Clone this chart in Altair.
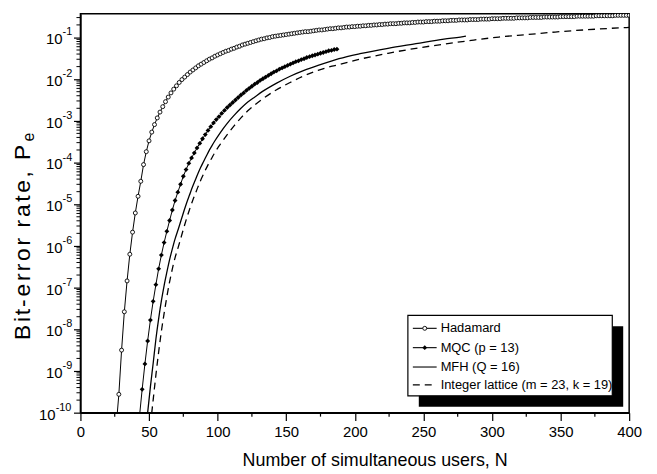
import altair as alt
import pandas as pd

# ---------------- data (log10 of bit-error rate) ----------------
hadamard_N = list(range(26, 401, 2))
hadamard_log10 = [
    -10.35, -9.56, -8.50, -7.58, -6.84, -6.20, -5.67, -5.21, -4.81, -4.45,
    -4.05, -3.74, -3.48, -3.27, -3.09, -2.93, -2.79, -2.66, -2.54, -2.43,
    -2.33, -2.24, -2.16, -2.08, -2.01, -1.95, -1.89, -1.83, -1.78, -1.73,
    -1.68, -1.64, -1.60, -1.56, -1.52, -1.49, -1.45, -1.42, -1.39, -1.36,
    -1.33, -1.31, -1.28, -1.26, -1.23, -1.21, -1.18, -1.16, -1.14, -1.12,
    -1.10, -1.08, -1.06, -1.04, -1.03, -1.01, -1.00, -0.98, -0.97, -0.96,
    -0.95, -0.94, -0.93, -0.92, -0.91, -0.90, -0.89, -0.88, -0.87, -0.86,
    -0.86, -0.85, -0.84, -0.83, -0.82, -0.82, -0.81, -0.80, -0.79, -0.79,
    -0.78, -0.77, -0.77, -0.76, -0.75, -0.75, -0.74, -0.74, -0.73, -0.73,
    -0.72, -0.72, -0.71, -0.71, -0.70, -0.70, -0.69, -0.69, -0.68, -0.68,
    -0.67, -0.67, -0.67, -0.66, -0.66, -0.65, -0.65, -0.65, -0.64, -0.64,
    -0.63, -0.63, -0.63, -0.62, -0.62, -0.62, -0.61, -0.61, -0.61, -0.60,
    -0.60, -0.60, -0.59, -0.59, -0.59, -0.58, -0.58, -0.58, -0.58, -0.57,
    -0.57, -0.57, -0.57, -0.56, -0.56, -0.56, -0.56, -0.55, -0.55, -0.55,
    -0.55, -0.54, -0.54, -0.54, -0.54, -0.54, -0.53, -0.53, -0.53, -0.53,
    -0.53, -0.52, -0.52, -0.52, -0.52, -0.52, -0.51, -0.51, -0.51, -0.51,
    -0.51, -0.51, -0.50, -0.50, -0.50, -0.50, -0.50, -0.50, -0.49, -0.49,
    -0.49, -0.49, -0.49, -0.49, -0.49, -0.48, -0.48, -0.48, -0.48, -0.48,
    -0.48, -0.48, -0.47, -0.47, -0.47, -0.47, -0.47, -0.47,
]

mqc_N = list(range(43, 188, 2))
mqc_log10 = [
    -10.10, -9.44, -8.83, -8.28, -7.78, -7.33, -6.93, -6.55, -6.22, -5.92,
    -5.65, -5.39, -5.14, -4.91, -4.71, -4.52, -4.33, -4.17, -4.02, -3.89,
    -3.77, -3.65, -3.54, -3.43, -3.33, -3.23, -3.14, -3.05, -2.97, -2.90,
    -2.82, -2.75, -2.68, -2.62, -2.56, -2.50, -2.44, -2.38, -2.33, -2.27,
    -2.22, -2.17, -2.12, -2.08, -2.03, -1.99, -1.95, -1.91, -1.87, -1.83,
    -1.80, -1.76, -1.73, -1.70, -1.67, -1.64, -1.61, -1.58, -1.56, -1.53,
    -1.51, -1.48, -1.46, -1.44, -1.42, -1.40, -1.38, -1.36, -1.34, -1.32,
    -1.31, -1.29, -1.28,
]

mfh_N = [48, 49, 51, 53, 55, 57, 59, 61, 63, 65, 67, 69, 71.3, 73.4, 75.4, 77.4,
         79.5, 81.5, 83.6, 85.6, 87.6, 89.7, 91.7, 93.7, 95.8, 97.8, 102, 107, 112,
         117, 122, 127.4, 132.5, 142.7, 152.9, 163, 173.2, 183.4, 188.5, 203.8,
         224.2, 244.6, 265, 277, 281]
mfh_log10 = [-10.3, -10.0, -9.38, -8.82, -8.24, -7.75, -7.32, -6.95, -6.63, -6.33,
             -6.07, -5.83, -5.60, -5.38, -5.17, -4.97, -4.78, -4.60, -4.43, -4.27,
             -4.12, -3.98, -3.85, -3.72, -3.60, -3.49, -3.28, -3.06, -2.87, -2.70,
             -2.55, -2.42, -2.30, -2.10, -1.93, -1.79, -1.67, -1.56, -1.51, -1.39,
             -1.26, -1.15, -1.04, -0.99, -0.97]

lattice_N = [51, 52, 53, 55, 57, 59, 61, 63, 65, 67, 69, 71.3, 73.4, 75.4, 77.4,
             79.5, 81.5, 83.6, 85.6, 87.6, 89.7, 91.7, 93.7, 95.8, 97.8, 99.9, 102,
             107, 112, 117, 122, 127.4, 132.5, 142.7, 152.9, 163, 173.2, 183.4,
             188.5, 203.8, 224.2, 244.6, 265, 285, 305, 326, 346, 367, 387, 400]
lattice_log10 = [-10.3, -10.0, -9.70, -9.10, -8.55, -8.05, -7.62, -7.22, -6.86, -6.55,
                 -6.28, -6.03, -5.79, -5.56, -5.34, -5.13, -4.94, -4.76, -4.59, -4.43,
                 -4.28, -4.14, -4.01, -3.89, -3.77, -3.66, -3.56, -3.33, -3.12, -2.93,
                 -2.76, -2.61, -2.48, -2.26, -2.08, -1.92, -1.79, -1.69, -1.65, -1.52,
                 -1.38, -1.26, -1.16, -1.07, -0.99, -0.93, -0.87, -0.82, -0.78, -0.76]

x_ticks = [0, 50, 100, 150, 200, 250, 300, 350, 400]
x_minor = [25, 75, 125, 175, 225, 275, 325, 375]
y_exponents = [-10, -9, -8, -7, -6, -5, -4, -3, -2, -1]
y_minor_mult = [2, 3, 4, 5, 6, 7, 8, 9]

legend_labels = ["Hadamard", "MQC (p = 13)", "MFH (Q = 16)",
                 "Integer lattice (m = 23, k = 19)"]
x_title = "Number of simultaneous users, N"
y_title_main = "Bit-error rate, P"
y_title_sub = "e"

# ---------------- tables ----------------
def table(ns, logs):
    return pd.DataFrame({"N": ns, "Pe": [10.0 ** v for v in logs]})

had = table(hadamard_N, hadamard_log10)
mqc = table(mqc_N, mqc_log10)
mfh = table(mfh_N, mfh_log10)
lat = table(lattice_N, lattice_log10)

dec = pd.DataFrame({"Pe": [10.0 ** e for e in y_exponents],
                    "exp": [str(e) for e in y_exponents],
                    "ndig": [len(str(abs(e))) for e in y_exponents]})
ymin_vals = []
for e in y_exponents:
    for m in y_minor_mult:
        ymin_vals.append(m * 10.0 ** e)
ymin = pd.DataFrame({"Pe": sorted(v for v in ymin_vals if 1e-10 < v <= 0.37)})
xmin = pd.DataFrame({"N": x_minor})
one = pd.DataFrame({"k": [0]})

W, H = 553, 402
FONT = "Liberation Sans"

# y title: glyphs spread along the axis (Arial advance widths, per 1000 em)
ADV = {"B": 667, "i": 222, "t": 278, "-": 333, "e": 556, "r": 333, "o": 556,
       " ": 278, "a": 556, ",": 278, "P": 667}
TFS, TSTRETCH, TBOTTOM, TX = 23, 1.28, 331, -58
rows, ycur = [], TBOTTOM
for ch in y_title_main:
    adv = ADV.get(ch, 556) * TFS / 1000.0 * TSTRETCH
    rows.append({"ch": ch, "py": ycur - adv / 2})
    ycur -= adv
title_chars = pd.DataFrame(rows)
sub_y = ycur - 5

xs = alt.Scale(domain=[0, 400], nice=False, zero=False)
ys = alt.Scale(type="log", domain=[1e-10, 0.37], nice=False)
x_axis = alt.Axis(values=x_ticks, tickSize=8, labelFontSize=15, labelPadding=4,
                  title=x_title, titleFontSize=18, titleFontWeight="normal",
                  titlePadding=12, titleX=W / 2 + 20, grid=False, labelFlush=False)
y_axis = alt.Axis(values=[10.0 ** e for e in y_exponents], labels=False, tickSize=7,
                  title=None, grid=False)
X = alt.X("N:Q", scale=xs, axis=x_axis)
Y = alt.Y("Pe:Q", scale=ys, axis=y_axis)

layers = []
# curves
layers.append(alt.Chart(lat).mark_line(color="black", strokeWidth=1.3, strokeDash=[7, 5],
                                       clip=True, interpolate="monotone").encode(x=X, y=Y))
layers.append(alt.Chart(mfh).mark_line(color="black", strokeWidth=1.3, clip=True,
                                       interpolate="monotone").encode(x=X, y=Y))
layers.append(alt.Chart(mqc).mark_line(color="black", strokeWidth=1, clip=True).encode(x=X, y=Y))
layers.append(alt.Chart(mqc).mark_point(shape="diamond", filled=True, color="black", size=24,
                                        opacity=1, clip=True).encode(x=X, y=Y))
layers.append(alt.Chart(had).mark_line(color="black", strokeWidth=1, clip=True).encode(x=X, y=Y))
layers.append(alt.Chart(had).mark_point(shape="circle", filled=True, fill="white",
                                        stroke="black", strokeWidth=0.9, size=16, opacity=1,
                                        clip=True).encode(x=X, y=Y))
# minor ticks
layers.append(alt.Chart(xmin).mark_rule(color="black", strokeWidth=1.2).encode(
    x=X, y=alt.value(H), y2=alt.value(H + 4)))
layers.append(alt.Chart(ymin).mark_rule(color="black", strokeWidth=1).encode(
    y=Y, x=alt.value(-4), x2=alt.value(0)))
# y tick labels 10^-k
for nd, xr in [(1, -18), (2, -25)]:
    sub = dec[dec["ndig"] == nd]
    layers.append(alt.Chart(sub).mark_text(align="right", baseline="middle", fontSize=15,
                                           font=FONT, color="black", dy=2).encode(
        y=Y, x=alt.value(xr), text=alt.value("10")))
    layers.append(alt.Chart(sub).mark_text(align="left", baseline="middle", fontSize=11,
                                           font=FONT, color="black", dy=-5).encode(
        y=Y, x=alt.value(xr), text="exp:N"))
# y title with subscript
layers.append(alt.Chart(title_chars).mark_text(angle=270, align="center", baseline="middle",
                                               fontSize=TFS, font=FONT, color="black").encode(
    x=alt.value(TX), y=alt.Y("py:Q", scale=None), text="ch:N"))
layers.append(alt.Chart(one).mark_text(angle=270, align="left", baseline="middle",
                                       fontSize=16, font=FONT, color="black").encode(
    x=alt.value(TX + 6), y=alt.value(sub_y + 4), text=alt.value(y_title_sub)))

# legend: shadow, box, entries
LX0, LX1, LY0, LY1 = 330, 536, 304, 385
layers.append(alt.Chart(one).mark_rect(color="black").encode(
    x=alt.value(LX0 + 11), x2=alt.value(LX1 + 11), y=alt.value(LY0 + 11), y2=alt.value(LY1 + 11)))
layers.append(alt.Chart(one).mark_rect(fill="white", stroke="black", strokeWidth=1.2).encode(
    x=alt.value(LX0), x2=alt.value(LX1), y=alt.value(LY0), y2=alt.value(LY1)))
row_y = [317, 336.5, 356, 374]
for i, lab in enumerate(legend_labels):
    yy = row_y[i]
    if i == 3:
        layers.append(alt.Chart(one).mark_rule(color="black", strokeWidth=1.3, strokeDash=[7, 5]).encode(
            x=alt.value(335), x2=alt.value(359), y=alt.value(yy)))
    else:
        layers.append(alt.Chart(one).mark_rule(color="black", strokeWidth=1.1).encode(
            x=alt.value(335), x2=alt.value(359), y=alt.value(yy)))
    if i == 0:
        layers.append(alt.Chart(one).mark_point(shape="circle", filled=True, fill="white",
                                                stroke="black", strokeWidth=0.9, size=16,
                                                opacity=1).encode(
            x=alt.value(347), y=alt.value(yy)))
    if i == 1:
        layers.append(alt.Chart(one).mark_point(shape="diamond", filled=True, color="black",
                                                size=24, opacity=1).encode(
            x=alt.value(347), y=alt.value(yy)))
    layers.append(alt.Chart(one).mark_text(align="left", baseline="middle", fontSize=13,
                                           font=FONT, color="black").encode(
        x=alt.value(363), y=alt.value(yy), text=alt.value(lab)))

chart = alt.layer(*layers).properties(
    width=W, height=H,
    autosize=alt.AutoSizeParams(type="none"),
    padding={"left": 73, "top": 4, "right": 20, "bottom": 60},
    background="white",
).configure_view(stroke="black", strokeWidth=1.5).configure_axis(
    domainColor="black", tickColor="black", labelColor="black", titleColor="black",
    labelFont=FONT, titleFont=FONT, domainWidth=1.5, tickWidth=1.2)

chart.save("out.html", embed_options={"renderer": "svg", "actions": False})
